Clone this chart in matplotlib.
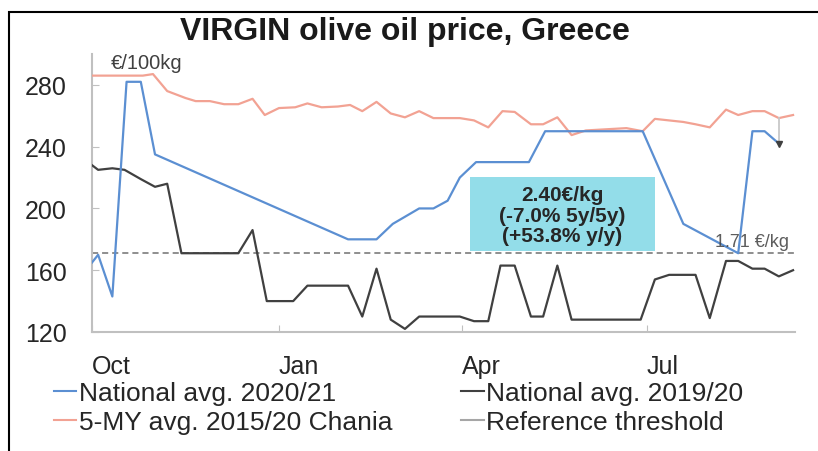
import pandas as pd
import matplotlib
matplotlib.use("Agg")
import matplotlib.pyplot as plt
from matplotlib.lines import Line2D
from matplotlib.patches import Rectangle
import matplotlib.dates as mdates

plt.rcParams['font.family'] = ['Liberation Sans', 'DejaVu Sans']

# Начало маркетингового года
START = pd.Timestamp("2020-10-01")

# Средняя цена по стране 2020/21 (дни от 1 окт, €/100кг)
nat_2021_days = [0, 3, 10, 17, 24, 31, 126, 140, 148, 161, 168, 175, 181, 189,
                 215, 223, 271, 291, 318, 325, 331, 338]
nat_2021 = [165, 170, 143, 282, 282, 235, 180, 180, 190, 200, 200, 205, 220, 230,
            230, 250, 250, 190, 171, 250, 250, 242]

# Средняя цена по стране 2019/20
nat_1920_days = [0, 3, 10, 16, 24, 31, 37, 44, 72, 79, 86, 99, 106, 126, 133, 140,
                 147, 154, 161, 181, 188, 195, 201, 208, 216, 222, 229, 236, 270,
                 277, 284, 297, 304, 312, 318, 325, 331, 338, 345]
nat_1920 = [228, 225, 226, 225, 219, 214, 216, 171, 171, 186, 140, 140, 150, 150,
            130, 161, 128, 122, 130, 130, 127, 127, 163, 163, 130, 130, 163, 128,
            128, 154, 157, 157, 129, 166, 166, 161, 161, 156, 160]

# Пятилетнее среднее 2015/20, Ханья
chania_days = [0, 6, 25, 30, 37, 46, 51, 58, 65, 72, 79, 85, 92, 100, 106, 113, 121,
               127, 133, 140, 147, 154, 161, 168, 181, 188, 195, 202, 208, 216, 222,
               229, 236, 243, 263, 271, 277, 284, 291, 297, 304, 312, 318, 325, 331,
               338, 345]
chania = [286, 286, 286, 287, 276, 271.5, 269.5, 269.5, 267.5, 267.5, 271, 260.5,
          265, 265.5, 268, 265.5, 266, 267, 263, 269, 261.5, 259, 263, 258.5, 258.5,
          257, 252.5, 263, 262.5, 254.5, 254.5, 259, 247.5, 250.5, 252, 250, 258,
          257, 256, 254.5, 252.5, 264, 260.5, 263, 263, 258.5, 260.5]

THRESHOLD = 171
X_END_DAY = 346
TICK_DATES = ["2020-10-01", "2021-01-01", "2021-04-01", "2021-07-01"]
TICK_LABELS = ["Oct", "Jan", "Apr", "Jul"]
Y_TICKS = [120, 160, 200, 240, 280]

BLUE = "#5b8fd2"
PINK = "#f2a293"
DARK = "#404040"


def to_dates(days):
    return START + pd.to_timedelta(days, unit="D")


fig = plt.figure(figsize=(8.18, 4.52), dpi=100)
ax = fig.add_axes([0.1125, 0.2633, 0.8595, 0.6150])

d_blue = to_dates(nat_2021_days)
d_black = to_dates(nat_1920_days)
d_pink = to_dates(chania_days)

ax.plot(d_pink, chania, color=PINK, lw=1.6, zorder=3)
ax.plot(d_black, nat_1920, color=DARK, lw=1.6, zorder=3)
ax.plot(d_blue, nat_2021, color=BLUE, lw=1.6, zorder=4)
ax.axhline(THRESHOLD, color="#707070", lw=1.1, dashes=(4, 2.6), zorder=2)

# стрелка от 5-летнего среднего к последнему значению
ax.plot([d_blue[-1], d_blue[-1]], [chania[-2], nat_2021[-1]], color="#c8c8c8", lw=1.3, zorder=3)
ax.plot([d_blue[-1]], [nat_2021[-1]], marker="v", color=DARK, ms=5, zorder=5)

# бирюзовая плашка с итоговой ценой
box_x0 = mdates.date2num(to_dates([186])[0])
box_x1 = mdates.date2num(to_dates([277])[0])
ax.add_patch(Rectangle((box_x0, 172.5), box_x1 - box_x0, 48, facecolor="#93dde9",
                       edgecolor="none", zorder=1))
ax.text((box_x0 + box_x1) / 2, 195.5, "2.40€/kg\n(-7.0% 5y/5y)\n(+53.8% y/y)",
        ha="center", va="center", fontsize=15, fontweight="bold", color="#262626",
        linespacing=1.1, zorder=6)

ax.text(to_dates([X_END_DAY - 3])[0], THRESHOLD + 2, "1.71 €/kg", ha="right", va="bottom",
        fontsize=13, color="#404040", alpha=0.85, zorder=6)
ax.text(0.027, 0.97, "€/100kg", transform=ax.transAxes, ha="left", va="center",
        fontsize=14.5, color="#404040")

ax.set_xlim(START, to_dates([X_END_DAY])[0])
ax.set_ylim(120, 300)
ax.set_yticks(Y_TICKS)
ax.set_xticks(pd.to_datetime(TICK_DATES))
ax.set_xticklabels(TICK_LABELS, ha="left")

for side in ["top", "right"]:
    ax.spines[side].set_visible(False)
for side in ["left", "bottom"]:
    ax.spines[side].set_color("#c0c0c0")
    ax.spines[side].set_linewidth(1.5)
ax.tick_params(axis="both", direction="in", length=5, color="#c0c0c0",
               labelsize=18, labelcolor="#262626")
ax.tick_params(axis="y", pad=18)
ax.tick_params(axis="x", pad=16)

fig.text(0.495, 0.93, "VIRGIN olive oil price, Greece", ha="center", va="center",
         fontsize=23, fontweight="bold", color="#1a1a1a")

handles = [
    Line2D([], [], color=BLUE, lw=1.5),
    Line2D([], [], color=PINK, lw=1.5),
    Line2D([], [], color=DARK, lw=1.5),
    Line2D([], [], color="#a6a6a6", lw=1.5),
]
labels = ["National avg. 2020/21", "5-MY avg. 2015/20 Chania",
          "National avg. 2019/20", "Reference threshold"]
fig.legend(handles, labels, ncol=2, loc="upper left", bbox_to_anchor=(54 / 818, 1 - 382 / 452),
           frameon=False, fontsize=19, handlelength=0.85, handletextpad=0.1,
           columnspacing=2.6, labelspacing=0.2, borderpad=0, borderaxespad=0,
           labelcolor="#262626")

# рамка вокруг рисунка (обрезана справа и снизу)
fig.add_artist(Rectangle((9 / 818, -0.1), 2, 1 - 13 / 452 + 0.1, transform=fig.transFigure,
                         fill=False, edgecolor="black", lw=1.5))

fig.savefig("out.png", dpi=100)
